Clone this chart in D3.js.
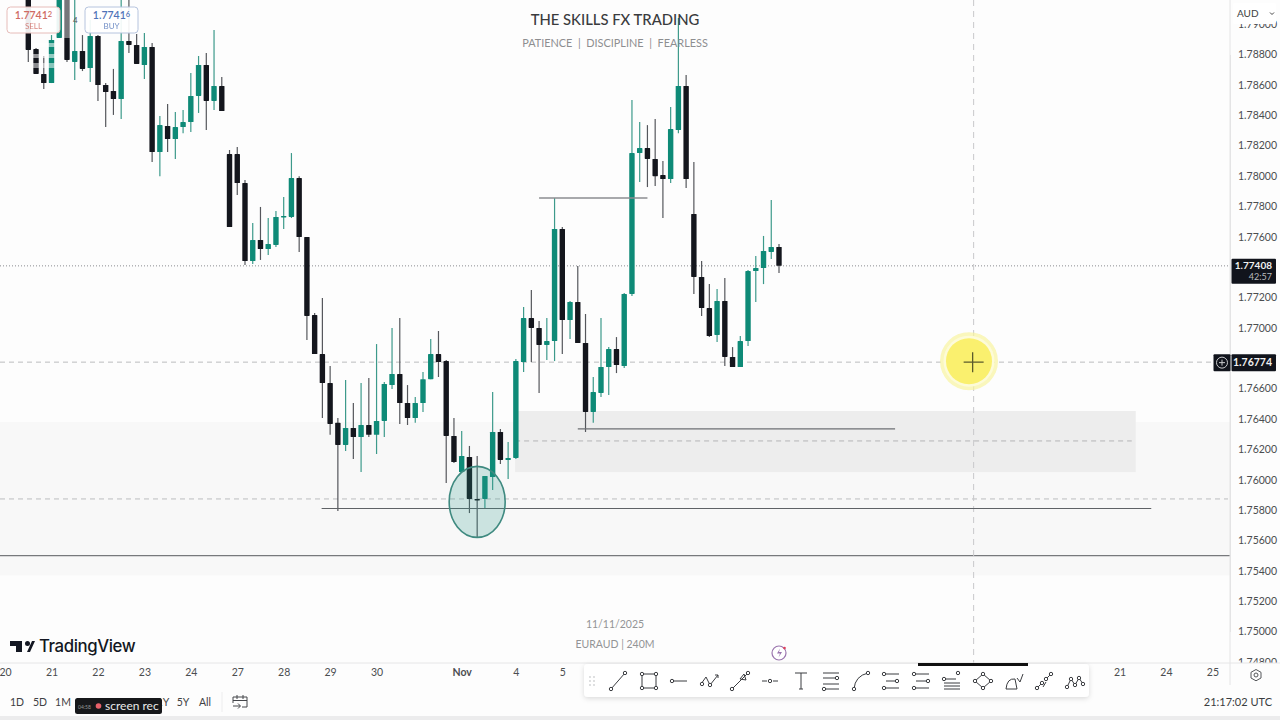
<!DOCTYPE html>
<html>
<head>
<meta charset="utf-8">
<script src="https://cdn.jsdelivr.net/npm/d3@7/dist/d3.min.js"></script>
<style>
  html, body { margin: 0; padding: 0; background: #fdfdfd; overflow: hidden; }
  svg { display: block; font-family: Lato, "Noto Sans", sans-serif; }
</style>
</head>
<body>
<svg id="chart" width="1280" height="720"></svg>
<script>
// EURAUD 240-minute candles, oldest first
const opens = [1.79225,1.78836,1.78672,1.78612,1.78909,1.79192,1.78751,1.78823,1.78711,1.78922,1.78599,1.78560,1.78507,1.78889,1.78863,1.78731,1.78850,1.78158,1.78329,1.78243,1.78322,1.78355,1.78527,1.78731,1.78494,1.78593,1.78144,1.78144,1.77953,1.77440,1.77579,1.77519,1.77546,1.77730,1.77730,1.77986,1.77598,1.77084,1.76827,1.76636,1.76374,1.76229,1.76341,1.76281,1.76360,1.76295,1.76387,1.76623,1.76696,1.76505,1.76406,1.76505,1.76662,1.76827,1.76781,1.76288,1.76050,1.76150,1.75873,1.75873,1.76017,1.76314,1.76130,1.76143,1.76775,1.77064,1.76999,1.76887,1.76913,1.77651,1.77051,1.77170,1.76900,1.76446,1.76571,1.76742,1.76860,1.76748,1.77223,1.78151,1.78184,1.78112,1.78006,1.77980,1.78302,1.78593,1.77750,1.77335,1.77130,1.76953,1.77177,1.76808,1.76742,1.76913,1.77374,1.77394,1.77500,1.77533];
const highs = [1.79291,1.78843,1.78790,1.78928,1.79291,1.79291,1.79192,1.78928,1.79027,1.78928,1.78612,1.78705,1.79192,1.79159,1.78935,1.78942,1.78876,1.78395,1.78474,1.78421,1.78434,1.78678,1.78790,1.78810,1.78961,1.78652,1.78171,1.78191,1.77973,1.77690,1.77796,1.77723,1.77770,1.77862,1.78151,1.77999,1.77598,1.77097,1.77196,1.76749,1.76406,1.76656,1.76505,1.76636,1.76669,1.76893,1.76643,1.76999,1.77064,1.76623,1.76544,1.76709,1.76926,1.76979,1.76788,1.76406,1.76321,1.76222,1.76156,1.76024,1.76577,1.76334,1.76248,1.76795,1.77137,1.77249,1.77045,1.77064,1.77855,1.77664,1.77177,1.77407,1.77091,1.76676,1.77064,1.76873,1.76939,1.77229,1.78500,1.78355,1.78335,1.78375,1.78099,1.78454,1.79040,1.78665,1.78092,1.77440,1.77288,1.77256,1.77328,1.76873,1.76946,1.77381,1.77473,1.77605,1.77842,1.77552];
const lows = [1.78751,1.78672,1.78573,1.78612,1.78909,1.78751,1.78632,1.78691,1.78619,1.78494,1.78323,1.78402,1.78375,1.78810,1.78738,1.78639,1.78092,1.77999,1.78158,1.78112,1.78282,1.78289,1.78415,1.78302,1.78434,1.78428,1.77664,1.77875,1.77414,1.77420,1.77447,1.77480,1.77533,1.77651,1.77723,1.77500,1.76920,1.76827,1.76406,1.76295,1.75794,1.76189,1.76136,1.76050,1.76281,1.76169,1.76281,1.76597,1.76367,1.76360,1.76374,1.76446,1.76662,1.76676,1.75978,1.76110,1.76050,1.75780,1.75622,1.75807,1.75932,1.76103,1.76004,1.76136,1.76709,1.76775,1.76571,1.76788,1.76781,1.76827,1.76926,1.76900,1.76314,1.76374,1.76544,1.76557,1.76702,1.76735,1.77210,1.77960,1.77927,1.77934,1.77723,1.77953,1.78282,1.77921,1.77223,1.77078,1.76939,1.76907,1.76748,1.76742,1.76742,1.76880,1.77170,1.77288,1.77453,1.77361];
const closes = [1.78830,1.78672,1.78612,1.78896,1.79192,1.78764,1.78823,1.78705,1.78922,1.78599,1.78553,1.78507,1.78889,1.78863,1.78738,1.78850,1.78158,1.78335,1.78243,1.78322,1.78355,1.78527,1.78731,1.78494,1.78593,1.78428,1.77664,1.77953,1.77440,1.77579,1.77519,1.77552,1.77730,1.77737,1.77986,1.77598,1.77078,1.76827,1.76636,1.76367,1.76229,1.76341,1.76281,1.76360,1.76295,1.76387,1.76630,1.76696,1.76505,1.76406,1.76505,1.76662,1.76827,1.76775,1.76288,1.76116,1.76156,1.75873,1.75866,1.76024,1.76314,1.76130,1.76143,1.76781,1.77064,1.76999,1.76887,1.76913,1.77651,1.77051,1.77170,1.76900,1.76446,1.76577,1.76742,1.76860,1.76755,1.77223,1.78151,1.78184,1.78112,1.77999,1.77980,1.78309,1.78593,1.77980,1.77335,1.77130,1.76946,1.77177,1.76808,1.76742,1.76913,1.77374,1.77394,1.77506,1.77533,1.77408];

// The scale skips the round prices that sit under the two value tags
const priceTicks = [1.748,1.75,1.752,1.754,1.756,1.758,1.76,1.762,1.764,1.766,1.77,1.772,1.776,1.778,1.78,1.782,1.784,1.786,1.788,1.79];
const dateBars   = [-3,3,9,15,21,27,33,39,45,56,63,69,141,147,153];
const dateLabels = ["20","21","22","23","24","27","28","29","30","Nov","4","5","21","24","25"];
const rangeLabels = ["1D","5D","1M","3M","6M","YTD","1Y","5Y","All"];
const rangeBars   = [17,40,63,86,110,135,163,183,205];

const lastPrice = 1.77408;
const cursorPrice = 1.76774;
const cursorBar = 122.15;

// Drawn levels: price, first bar, last bar
const solidLevels = [
  {price: 1.75810, from: 37.9, to: 145.1, color: "#5f6266", width: 1.2},
  {price: 1.77855, from: 66.0, to: 80.0,  color: "#8b8d90", width: 1.4},
  {price: 1.76334, from: 71.0, to: 112.0, color: "#6c6f73", width: 1.2}
];
const supplyZone = {top: 1.76452, bottom: 1.76050, mid: 1.76255, from: 62.9, to: 143.1};
const rangeBand = {top: 1.76380, bottom: 1.75370};
const sweepBar = 58, sweepPrice = 1.75854;

const green = "#0e8a77", black = "#14161d";
const width = 1280, height = 720, axisX = 1230, axisY = 663;

const x = d3.scaleLinear().domain([0, 97]).range([28.3, 779]);
const y = d3.scaleLinear().domain([1.75, 1.788]).range([631.5, 54.5]);
const svg = d3.select("#chart");

svg.append("rect").attr("width", width).attr("height", height).attr("fill", "#fdfdfd");

// Faint band behind the lower part of the pane
svg.append("rect").attr("x", 0).attr("width", axisX)
  .attr("y", y(rangeBand.top)).attr("height", y(rangeBand.bottom) - y(rangeBand.top))
  .attr("fill", "#f8f8f8");

// Supply zone with its midline
svg.append("rect")
  .attr("x", x(supplyZone.from)).attr("width", x(supplyZone.to) - x(supplyZone.from))
  .attr("y", y(supplyZone.top)).attr("height", y(supplyZone.bottom) - y(supplyZone.top))
  .attr("fill", "#ededed");
svg.append("line")
  .attr("x1", x(supplyZone.from)).attr("x2", x(supplyZone.to) - 4)
  .attr("y1", y(supplyZone.mid)).attr("y2", y(supplyZone.mid))
  .attr("stroke", "#b4b5b7").attr("stroke-dasharray", "5 4");

// Horizontal guide lines
const fullLine = (price, xEnd, color, dash, w) => svg.append("line")
  .attr("x1", 0).attr("x2", xEnd).attr("y1", y(price)).attr("y2", y(price))
  .attr("stroke", color).attr("stroke-width", w).attr("stroke-dasharray", dash);
fullLine(lastPrice, axisX, "#8a8c90", "1 2", 1);
fullLine(cursorPrice, 1212, "#bbbcbe", "5 4", 1);
fullLine(1.75873, 1228, "#bcbdbf", "5 4", 1);
fullLine(1.75500, axisX, "#77797c", null, 1.2);

svg.append("line")
  .attr("x1", x(cursorBar)).attr("x2", x(cursorBar)).attr("y1", 0).attr("y2", axisY)
  .attr("stroke", "#c8c9cb").attr("stroke-dasharray", "6 5");

// Candles
const candles = d3.range(opens.length).map(i => ({i, o: opens[i], h: highs[i], l: lows[i], c: closes[i]}));
const candle = svg.append("g").selectAll("g").data(candles).join("g");
candle.append("line")
  .attr("x1", d => x(d.i)).attr("x2", d => x(d.i))
  .attr("y1", d => y(d.h)).attr("y2", d => y(d.l))
  .attr("stroke", d => d.c >= d.o ? "#3d9a8b" : "#55575c").attr("stroke-width", 1.2);
candle.append("rect")
  .attr("x", d => x(d.i) - 2.7).attr("width", 5.4)
  .attr("y", d => y(Math.max(d.o, d.c)))
  .attr("height", d => Math.max(1.5, Math.abs(y(d.o) - y(d.c))))
  .attr("rx", 0.6)
  .attr("fill", d => d.c >= d.o ? green : black);

// Levels drawn across the candles
svg.append("g").selectAll("line").data(solidLevels).join("line")
  .attr("x1", d => x(d.from)).attr("x2", d => x(d.to))
  .attr("y1", d => y(d.price)).attr("y2", d => y(d.price))
  .attr("stroke", d => d.color).attr("stroke-width", d => d.width);

// Liquidity sweep marker
svg.append("ellipse")
  .attr("cx", x(sweepBar)).attr("cy", y(sweepPrice)).attr("rx", 28).attr("ry", 35.5)
  .attr("fill", "#2f9c8f").attr("fill-opacity", 0.22)
  .attr("stroke", "#3f8a80").attr("stroke-width", 1.6);

// Washed-out patch left by a closing tooltip
svg.append("rect").attr("x", 33).attr("y", 43).attr("width", 30).attr("height", 4).attr("fill", "#fff").attr("opacity", 0.55);
svg.append("rect").attr("x", 33).attr("y", 54).attr("width", 30).attr("height", 4).attr("fill", "#fff").attr("opacity", 0.55);
svg.append("rect").attr("x", 33).attr("y", 63).attr("width", 30).attr("height", 5).attr("fill", "#fff").attr("opacity", 0.5);
svg.append("rect").attr("x", 63).attr("y", 0).attr("width", 9).attr("height", 38).attr("fill", "#fff").attr("opacity", 0.42);
svg.append("text").attr("x", 73).attr("y", 23).attr("font-size", 8).attr("fill", "#555").text("4");

// Quote buttons
function quote(xPos, color, border, big, small, label) {
  const g = svg.append("g").attr("transform", `translate(${xPos},7)`);
  g.append("rect").attr("width", 53).attr("height", 26).attr("rx", 3.5).attr("fill", "#fff").attr("fill-opacity", 0.92).attr("stroke", border);
  const t = g.append("text").attr("x", 26.5).attr("y", 11.5).attr("text-anchor", "middle").attr("fill", color).attr("font-size", 10.5).attr("font-weight", 600);
  t.append("tspan").text(big);
  t.append("tspan").attr("font-size", 7.5).attr("dy", -2).text(small);
  g.append("text").attr("x", 26.5).attr("y", 22).attr("text-anchor", "middle").attr("fill", color).attr("opacity", 0.8).attr("font-size", 8).text(label);
}
quote(7, "#cf6a63", "#e6bcb9", "1.7741", "2", "SELL");
quote(85, "#4f73b8", "#b6c4de", "1.7741", "6", "BUY");

// Watermark captions
const caption = (xPos, yPos, size, color, weight, text) => svg.append("text")
  .attr("x", xPos).attr("y", yPos).attr("text-anchor", "middle").attr("font-size", size)
  .attr("fill", color).attr("font-weight", weight).attr("dominant-baseline", "middle").text(text);
caption(615, 21.5, 14.8, "#3a3b3d", 500, "THE SKILLS FX TRADING");
caption(615, 44, 10.9, "#8d8e90", 400, "PATIENCE  |  DISCIPLINE  |  FEARLESS").style("white-space", "pre");
caption(615, 625.5, 10.5, "#939496", 400, "11/11/2025");
caption(615, 645, 10.5, "#939496", 400, "EURAUD | 240M");

// Cursor highlight
svg.append("circle").attr("cx", 969).attr("cy", y(cursorPrice) - 1).attr("r", 29).attr("fill", "#f8f3a0").attr("opacity", 0.7);
svg.append("circle").attr("cx", 969).attr("cy", y(cursorPrice) - 1).attr("r", 25.5).attr("fill", "#fdfbd8");
svg.append("circle").attr("cx", 969).attr("cy", y(cursorPrice) - 1).attr("r", 23).attr("fill", "#faf06e");
svg.append("path").attr("d", `M${x(cursorBar) - 10},${y(cursorPrice)}h20M${x(cursorBar) - 1},${y(cursorPrice) - 10}v20`).attr("stroke", "#5b5a2c").attr("stroke-width", 1.3).attr("fill", "none");

// Price scale
svg.append("rect").attr("x", axisX).attr("y", 0).attr("width", width - axisX).attr("height", axisY).attr("fill", "#fdfdfd");
const priceAxis = d3.axisRight(y).tickValues(priceTicks).tickFormat(d3.format(".5f")).tickSize(0).tickPadding(8);
svg.append("g").attr("transform", `translate(${axisX},0)`).call(priceAxis)
  .call(g => g.select(".domain").attr("stroke", "#e4e4e5"))
  .call(g => g.selectAll("text").attr("font-family", "Lato, sans-serif").attr("font-size", 10.5).attr("fill", "#4b4d50"));
svg.append("line").attr("x1", axisX).attr("x2", axisX).attr("y1", 0).attr("y2", 697).attr("stroke", "#e4e4e5");

svg.append("rect").attr("x", 1233).attr("y", 3).attr("width", 43).attr("height", 21).attr("rx", 2).attr("fill", "#fff");
svg.append("text").attr("x", 1237).attr("y", 17).attr("font-size", 10).attr("fill", "#3d3f42").text("AUD");
svg.append("path").attr("d", "M1270,12.5l2,2l2,-2").attr("stroke", "#444").attr("fill", "none");

// Value tags on the price scale
const tag = (price, h, yOffset) => svg.append("rect").attr("x", 1231.5).attr("y", y(price) + yOffset).attr("width", 44.5).attr("height", h).attr("rx", 1).attr("fill", "#11141c");
tag(lastPrice, 25, -7);
tag(cursorPrice, 17, -8);
const tagText = (yPos, text, size, color) => svg.append("text").attr("x", 1272).attr("y", yPos).attr("text-anchor", "end")
  .attr("font-size", size).attr("fill", color).attr("font-weight", 700).text(text);
tagText(y(lastPrice) + 3.5, d3.format(".5f")(lastPrice), 10, "#f0f0f0");
tagText(y(lastPrice) + 14.5, "42:57", 9, "#b9bbbf").attr("font-weight", 400);
tagText(y(cursorPrice) + 4, d3.format(".5f")(cursorPrice), 10.5, "#f0f0f0");
svg.append("rect").attr("x", 1213.5).attr("y", y(cursorPrice) - 8).attr("width", 17).attr("height", 17).attr("rx", 1).attr("fill", "#11141c");
svg.append("circle").attr("cx", 1222).attr("cy", y(cursorPrice) + 0.5).attr("r", 5.5).attr("fill", "none").attr("stroke", "#c9cacc");
svg.append("path").attr("d", `M1219,${y(cursorPrice) + 0.5}h6M1222,${y(cursorPrice) - 2.5}v6`).attr("stroke", "#c9cacc");

// Time scale
svg.append("rect").attr("x", 0).attr("y", axisY).attr("width", width).attr("height", 34).attr("fill", "#fdfdfd");
svg.append("line").attr("x1", 0).attr("x2", width).attr("y1", axisY).attr("y2", axisY).attr("stroke", "#e6e6e7");
const timeAxis = d3.axisBottom(x).tickValues(dateBars).tickFormat(d => dateLabels[dateBars.indexOf(d)]).tickSize(0).tickPadding(6);
svg.append("g").attr("transform", `translate(0,${axisY})`).call(timeAxis)
  .call(g => g.select(".domain").remove())
  .call(g => g.selectAll("text").attr("font-family", "Lato, sans-serif").attr("font-size", 10.5).attr("fill", "#4b4d50")
    .attr("font-weight", d => d === 56 ? 700 : 400));
svg.append("line").attr("x1", axisX).attr("x2", axisX).attr("y1", axisY).attr("y2", 685).attr("stroke", "#e4e4e5");

// TradingView mark and name
svg.append("path").attr("fill", "#131722").attr("d", "M10,641h12v11h-6v-6h-6zM27.5,646a2.5,2.5 0 1 1 0,-5 2.5,2.5 0 0 1 0,5zM27,652l5,-11h3l-5,11z");
svg.append("text").attr("x", 39).attr("y", 651.5).attr("font-size", 16.8).attr("font-weight", 500).attr("fill", "#131722").attr("font-family", "Inter, Lato, sans-serif").attr("letter-spacing", -0.4).text("TradingView");

// Alert lightning badge
svg.append("circle").attr("cx", 779).attr("cy", 653).attr("r", 7).attr("fill", "#fff").attr("stroke", "#9a74ae").attr("stroke-width", 1.2);
svg.append("path").attr("d", "M780,648.5l-3,5h3l-1.5,4l3.5,-5.5h-3z").attr("fill", "#9a74ae");
svg.append("circle").attr("cx", 784.5).attr("cy", 648).attr("r", 1.3).attr("fill", "#e0405a");

// Bottom bar
svg.append("rect").attr("x", 0).attr("y", 716).attr("width", width).attr("height", 4).attr("fill", "#ececed");
svg.append("g").selectAll("text").data(rangeLabels).join("text")
  .attr("x", (d, i) => rangeBars[i]).attr("y", 706).attr("text-anchor", "middle")
  .attr("font-size", 10.5).attr("fill", "#3f4144").text(d => d);
svg.append("line").attr("x1", 222).attr("x2", 222).attr("y1", 692).attr("y2", 712).attr("stroke", "#ededee");
svg.append("path").attr("fill", "none").attr("stroke", "#44464a").attr("d", "M233,697h14v10h-5M233,697v6M233,700.5h14M237,695v4M243,695v4M233,706h7M238,703.5l2.5,2.5l-2.5,2.5");
svg.append("text").attr("x", 1272).attr("y", 706).attr("text-anchor", "end").attr("font-size", 11).attr("fill", "#3a3c40").text("21:17:02 UTC");

// Settings gear
svg.append("path").attr("d", "M1256,669.5l5,2.8v5.7l-5,2.8l-5,-2.8v-5.7z").attr("fill", "none").attr("stroke", "#55575a");
svg.append("circle").attr("cx", 1256).attr("cy", 675).attr("r", 2).attr("fill", "none").attr("stroke", "#55575a");

// Recording badge
svg.append("rect").attr("x", 75).attr("y", 698).attr("width", 87).attr("height", 16).attr("rx", 2.5).attr("fill", "#17181b");
svg.append("text").attr("x", 78).attr("y", 708.5).attr("font-size", 5).attr("fill", "#999").text("04:58");
svg.append("circle").attr("cx", 98.5).attr("cy", 706).attr("r", 2.8).attr("fill", "#e8616a");
svg.append("text").attr("x", 105).attr("y", 710).attr("font-size", 12).attr("fill", "#eaeaea").text("screen rec");

// Drawing toolbar
svg.append("defs").append("filter").attr("id", "panelShadow").attr("x", "-5%").attr("y", "-30%").attr("width", "110%").attr("height", "170%")
  .append("feDropShadow").attr("dx", 0).attr("dy", 1.5).attr("stdDeviation", 2.5).attr("flood-color", "#000").attr("flood-opacity", 0.14);
svg.append("rect").attr("x", 584).attr("y", 664).attr("width", 505).attr("height", 33).attr("rx", 4).attr("fill", "#fff").attr("filter", "url(#panelShadow)");
svg.append("rect").attr("x", 918).attr("y", 663).attr("width", 110).attr("height", 3).attr("fill", "#111");

// Each tool is line work around its slot centre plus small anchor handles
const toolPaths = [
  "M-7,8L7,-8",
  "M-7,-7H7V7H-7Z",
  "M-5,0H8",
  "M-9,3L-4,-4L0,4L8,-6M5,-6H8V-3",
  "M-8,8L8,-8M4,-7L6,-1L0,-2Z",
  "M-8,0H-3M3,0H8",
  "M-6,-8H6M0,-8V8M-2,8H2",
  "M-8,-8H8M-8,-3H5M-8,3H8M-5,8H8",
  "M-7,8Q-6,-5 7,-8",
  "M-5,-7H8M-5,0H8M-5,7H8",
  "M-5,-7H8M-5,0H8M-5,7H8",
  "M-8,-2H4M-8,2H8M-8,5H8M-8,8H8",
  "M-8,0L0,-7L8,0L0,7Z",
  "M-8,8Q-7,-3 1,-2L3,8ZM3,-3L6,1L9,-7",
  "M-7,7L-2,2M2,-2L7,-7M-1,6L2,1",
  "M-8,6L-4,-2L0,4L4,-3L8,3"
];
const toolHandles = [
  [[-7,8],[7,-8]], [[-7,-7],[7,-7],[-7,7],[7,7]], [[-7,0]], [[-8,3],[0,4]], [[-8,8],[8,-8]],
  [[0,0]], [], [[6,-3],[-7,8]], [[-7,8],[7,-8]], [[-7,-7],[6,0],[-7,7]], [[-7,-7],[7,0],[-7,7]],
  [[6,-8],[-8,-2]], [[-8,0],[0,-7],[8,0],[0,7]], [], [[-7,7],[7,-7],[-2,2],[2,-2]], [[-8,6],[0,4],[8,3],[-4,-2],[4,-3]]
];
const toolCentres = [618,649,679,710,740,770,801,831,861,891,921,952,983,1014,1044,1075];
const tools = svg.append("g").selectAll("g").data(toolPaths).join("g")
  .attr("transform", (d, i) => `translate(${toolCentres[i]},681)`);
tools.append("path").attr("d", d => d).attr("fill", "none").attr("stroke", "#3b3d41").attr("stroke-width", 1);
tools.selectAll("circle").data((d, i) => toolHandles[i]).join("circle")
  .attr("cx", d => d[0]).attr("cy", d => d[1]).attr("r", 1.7).attr("fill", "#fff").attr("stroke", "#3b3d41");
svg.append("g").selectAll("circle").data(d3.cross([590, 594], [677, 681, 685])).join("circle")
  .attr("cx", d => d[0]).attr("cy", d => d[1]).attr("r", 0.9).attr("fill", "#d0d1d3");
</script>
</body>
</html>
